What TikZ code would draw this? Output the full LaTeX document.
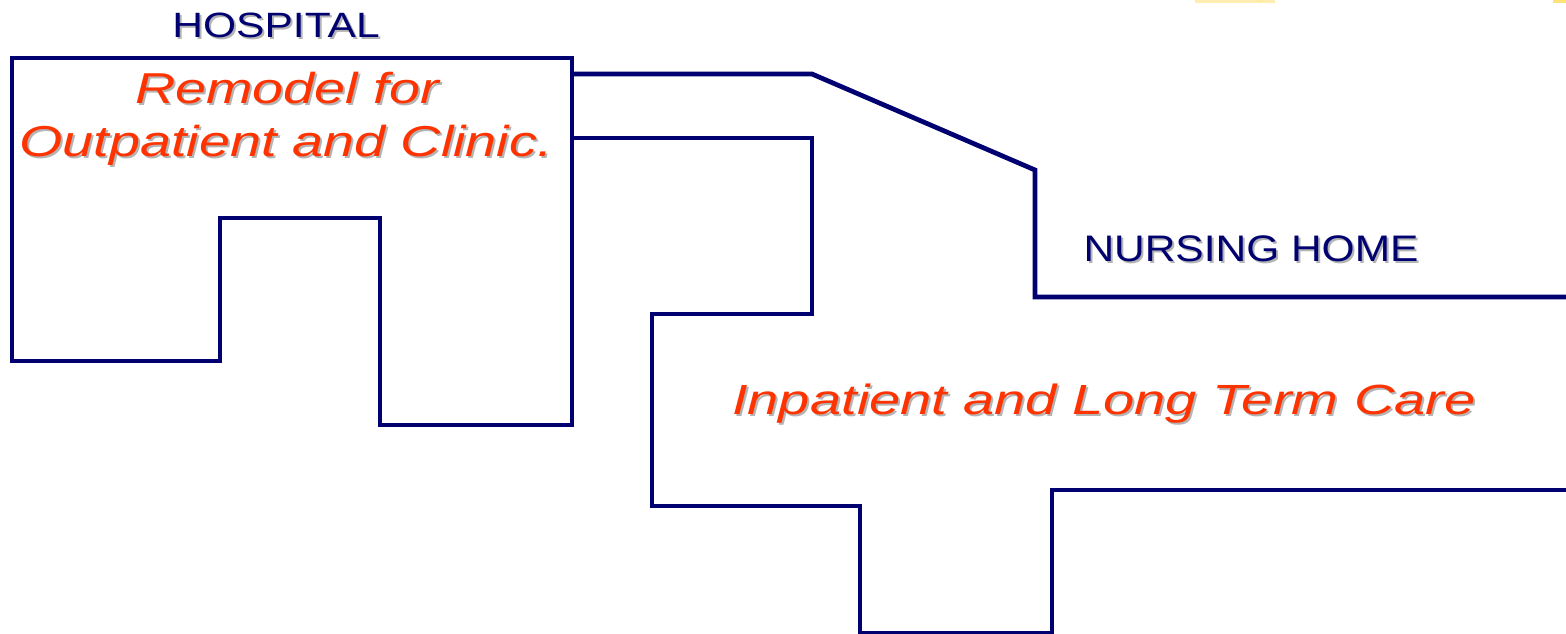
\documentclass[tikz,border=0pt]{standalone}
\usepackage{fontspec}
\setmainfont{Liberation Sans}
% wide cuts of the same face for the labels
\newfontfamily\bldgfont{Liberation Sans}[FakeStretch=1.21]
\newfontfamily\nursefont{Liberation Sans}[FakeStretch=1.15]
\newfontfamily\areafont{Liberation Sans}[FakeStretch=1.29]
\newfontfamily\carefont{Liberation Sans}[FakeStretch=1.33]
\definecolor{wallnavy}{HTML}{000070}
\definecolor{labelred}{HTML}{FF3300}
\definecolor{shadegray}{HTML}{B4B4B4}
\definecolor{tapeyellow}{HTML}{FFE27A}
\begin{document}
\begin{tikzpicture}[x=0.01cm,y=-0.01cm,
  wall/.style={draw=wallnavy,line width=1.35pt,line join=miter},
  bldglabel/.style={text=wallnavy,inner sep=0pt,font=\bldgfont\fontsize{10}{12}\selectfont},
  nurselabel/.style={text=wallnavy,inner sep=0pt,font=\nursefont\fontsize{10.5}{12}\selectfont},
  arealabel/.style={text=labelred,inner sep=0pt,anchor=base,font=\areafont\fontsize{12.3}{15.6}\selectfont\itshape},
  carelabel/.style={text=labelred,inner sep=0pt,anchor=base,font=\carefont\fontsize{12}{14}\selectfont\itshape},
  shade/.style={text=shadegray}]
\useasboundingbox (0,0) rectangle (1566,633);

% faint tape marks along the top edge
\fill[tapeyellow!60] (1195,0) rectangle (1275,3);
\fill[tapeyellow!70] (1257,0) rectangle (1263,2);
\fill[tapeyellow] (1553,0) rectangle (1566,3);

% hospital block
\draw[wall] (12,58) -- (572,58) -- (572,425) -- (380,425) -- (380,218)
  -- (220,218) -- (220,361) -- (12,361) -- cycle;

% connecting corridor and nursing home wing
\draw[wall] (572,74) -- (812,74) -- (1035,170) -- (1035,297) -- (1566,297);
\draw[wall] (572,138) -- (812,138) -- (812,314) -- (652,314) -- (652,506)
  -- (860,506) -- (860,633) -- (1052,633) -- (1052,490) -- (1566,490);

% labels with drop shadows
\node[bldglabel,shade] at (278,27) {HOSPITAL};
\node[bldglabel] (hosp) at (276,25) {HOSPITAL};

\node[nurselabel,shade] at (1253,251) {NURSING HOME};
\node[nurselabel] (nurs) at (1251,249) {NURSING HOME};

\node[arealabel,shade] at (289,105) {Remodel for};
\node[arealabel] (remodel) at (287,103) {Remodel for};
\node[arealabel,shade] at (288,158) {Outpatient and Clinic.};
\node[arealabel] (outpat) at (286,156) {Outpatient and Clinic.};

\node[carelabel,shade] at (1106,416) {Inpatient and Long Term Care};
\node[carelabel] (inpat) at (1104,414) {Inpatient and Long Term Care};
\end{tikzpicture}
\end{document}
